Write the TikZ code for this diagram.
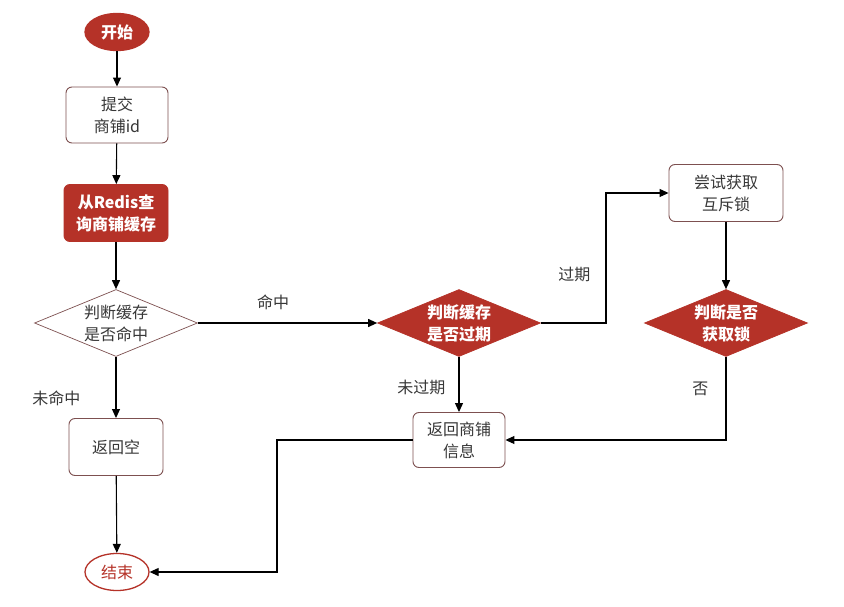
\documentclass[tikz,border=0pt]{standalone}
\usepackage{fontspec}
\setmainfont{Noto Sans CJK SC}
\usetikzlibrary{arrows.meta,shapes.geometric,positioning}
\definecolor{hmred}{RGB}{181,50,40}
\definecolor{hmedge}{RGB}{125,80,80}
\definecolor{hmtext}{RGB}{55,55,55}
\newcommand{\hmfont}{\fontsize{16}{22}\selectfont}

\tikzset{
 box/.style={draw=hmedge,line width=0.9pt,rounded corners=6pt,fill=white,text=hmtext,
  minimum width=100pt,minimum height=56pt,align=center,inner sep=2pt,font=\hmfont},
 redbox/.style={box,draw=hmred,fill=hmred,text=white,font=\hmfont\bfseries},
 cond/.style={diamond,shape aspect=2.4,draw=hmedge,line width=0.7pt,fill=white,text=hmtext,
  minimum width=163pt,minimum height=67pt,inner sep=0pt,align=center,font=\hmfont},
 redcond/.style={cond,draw=hmred,fill=hmred,text=white,font=\hmfont\bfseries},
 term/.style={ellipse,minimum width=64pt,minimum height=37pt,inner sep=0pt,line width=1.3pt,font=\hmfont},
 lbl/.style={text=hmtext,inner sep=1pt,font=\hmfont}
}

\begin{document}
\begin{tikzpicture}[x=1pt,y=-1pt,>={Triangle[length=9pt,width=8pt]},line width=1.1pt]
\useasboundingbox[fill=white] (0,0) rectangle (844,607);
% left column
\node[term,fill=hmred,draw=hmred,text=white,font=\hmfont\bfseries] (start) at (117,32) {开始};
\node[box,minimum width=102pt] (submit) at (117,115) {提交\\商铺id};
\node[redbox,minimum width=104pt,minimum height=57pt] (query) at (116,213) {从Redis查\\询商铺缓存};
\node[cond] (hit) at (116,323) {判断缓存\\是否命中};
\node[box,minimum width=94pt,minimum height=57pt] (empty) at (116,447) {返回空};
\node[term,draw=hmred,fill=white,text=hmred] (end) at (117,572) {结束};
% middle and right
\node[redcond] (expire) at (459,323) {判断缓存\\是否过期};
\node[box,minimum width=92pt,minimum height=55pt] (info) at (459,440) {返回商铺\\信息};
\node[box,minimum width=114pt,minimum height=57pt] (lock) at (726,193) {尝试获取\\互斥锁};
\node[redcond] (got) at (726,323) {判断是否\\获取锁};
\coordinate (turn1) at (606,323);
\coordinate (turn2) at (277,440);

\draw[->] (start) -- (submit);
\draw[->] (submit) -- (query);
\draw[->] (query) -- (hit);
\draw[->] (hit) -- node[lbl,pos=0.42,above=12pt]{命中} (expire);
\draw[->] (hit) -- node[lbl,pos=0.67,left=34pt]{未命中} (empty);
\draw[->] (empty) -- (end);
\draw[->] (expire) -- node[lbl,pos=0.55,left=12pt]{未过期} (info);
\draw[->] (expire) -- (turn1) -- node[lbl,pos=0.37,left=14pt]{过期} (turn1 |- lock.west) -- (lock);
\draw[->] (lock) -- (got);
\draw[->] (got) |- node[lbl,pos=0.19,left=16pt]{否} (info);
\draw[->] (info) -- (turn2) |- (end);
\end{tikzpicture}
\end{document}
